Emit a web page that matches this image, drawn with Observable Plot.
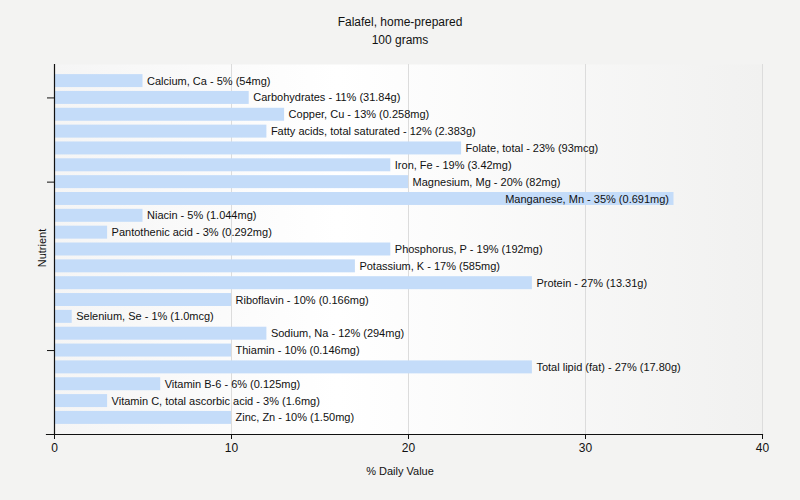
<!DOCTYPE html>
<html><head><meta charset="utf-8">
<script src="https://cdn.jsdelivr.net/npm/d3@7"></script>
<script src="https://cdn.jsdelivr.net/npm/@observablehq/plot@0.6"></script>
<style>
body{margin:0;background:#f3f3f2;}
#wrap{position:relative;width:800px;height:500px;font-family:"Liberation Sans",Arial,sans-serif;color:#111;}
.t{position:absolute;left:0;width:800px;text-align:center;font-size:12px;}
#ylab{position:absolute;left:42px;top:248px;font-size:11px;transform:translate(-50%,-50%) rotate(-90deg);white-space:nowrap;}
</style></head>
<body><div id="wrap">
<div class="t" style="top:15px">Falafel, home-prepared</div>
<div class="t" style="top:33px">100 grams</div>
<div class="t" style="top:465px;font-size:11px">% Daily Value</div>
<div id="ylab">Nutrient</div>
</div>
<script>
const nutrients = ["Calcium, Ca","Carbohydrates","Copper, Cu","Fatty acids, total saturated","Folate, total","Iron, Fe","Magnesium, Mg","Manganese, Mn","Niacin","Pantothenic acid","Phosphorus, P","Potassium, K","Protein","Riboflavin","Selenium, Se","Sodium, Na","Thiamin","Total lipid (fat)","Vitamin B-6","Vitamin C, total ascorbic acid","Zinc, Zn"];
const values = [5,11,13,12,23,19,20,35,5,3,19,17,27,10,1,12,10,27,6,3,10];
const amounts = ["54mg","31.84g","0.258mg","2.383g","93mcg","3.42mg","82mg","0.691mg","1.044mg","0.292mg","192mg","585mg","13.31g","0.166mg","1.0mcg","294mg","0.146mg","17.80g","0.125mg","1.6mg","1.50mg"];
const yTicks = ["Carbohydrates","Magnesium, Mg","Thiamin"];
const xTicks = [0,10,20,30,40];

const data = nutrients.map((n,i)=>({n, v:values[i], label:`${n} - ${values[i]}% (${amounts[i]})`}));
const inside = d => d.v >= 30;

const chart = Plot.plot({
  width: 800, height: 500,
  marginLeft: 54, marginRight: 38, marginTop: 64, marginBottom: 66,
  style: {background:"transparent", fontFamily:"Liberation Sans, Arial, sans-serif", fontSize:"11px", color:"#111"},
  x: {domain:[0,40]},
  y: {domain: nutrients, paddingInner: 0.23, paddingOuter: 0.6, align: 0.5, round: false},
  marks: [
    Plot.frame({fill:"url(#bggrad)", stroke:null}),
    Plot.gridX(xTicks.slice(1), {stroke:"#dcdcdc", strokeOpacity:1}),
    Plot.barX(data, {x:"v", y:"n", fill:"#c4dcf9"}),
    Plot.text(data.filter(d=>!inside(d)), {x:"v", y:"n", text:"label", textAnchor:"start", dx:4, fill:"#111", fontSize:11}),
    Plot.text(data.filter(inside), {x:"v", y:"n", text:"label", textAnchor:"end", dx:-5, fill:"#111", fontSize:11}),
    Plot.axisX({ticks:xTicks, tickSize:5, tickPadding:4, fontSize:12, label:null, stroke:"#111"}),
    Plot.axisY({ticks:yTicks, tickSize:7, tickFormat:()=>"", label:null, stroke:"#111"}),
    Plot.frame({anchor:"bottom", stroke:"#111", strokeWidth:1.2, insetLeft:-8}),
    Plot.frame({anchor:"left", stroke:"#111", strokeWidth:1.2})
  ]
});
const defs = d3.select(chart).insert("defs",":first-child");
const g = defs.append("linearGradient").attr("id","bggrad").attr("x1","0%").attr("x2","100%").attr("y1","0%").attr("y2","0%");
g.append("stop").attr("offset","0%").attr("stop-color","#f5f5f5");
g.append("stop").attr("offset","40%").attr("stop-color","#ffffff");
g.append("stop").attr("offset","100%").attr("stop-color","#f1f1f0");
chart.style.position="absolute"; chart.style.left="0"; chart.style.top="0";
document.getElementById("wrap").prepend(chart);
</script>
</body></html>
